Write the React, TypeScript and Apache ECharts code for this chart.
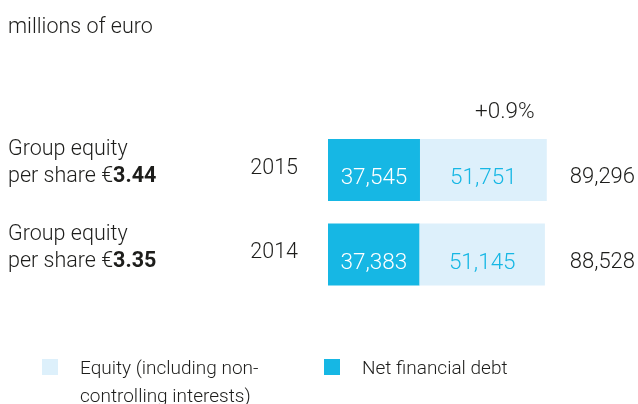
import React, { useEffect, useRef } from 'react';
import * as echarts from 'echarts';

const years = ['2015', '2014'];
const netFinancialDebt = [37545, 37383];
const equity = [51751, 51145];
const equityPerShare = ['3.44', '3.35'];
const unitLabel = 'millions of euro';
const debtName = 'Net financial debt';
const equityName = 'Equity (including non-controlling interests)';

const DARK = '#16b7e4';
const LIGHT = '#ddf0fb';
const TEXT = '#1d1d1b';
const FONT = 'Roboto, "Liberation Sans", Arial, sans-serif';

const fmt = (v: number) => v.toLocaleString('en-US');

export default function App() {
  const ref = useRef<HTMLDivElement>(null);
  useEffect(() => {
    const chart = echarts.init(ref.current!, null, { renderer: 'svg' });
    const totals = years.map((_, i) => netFinancialDebt[i] + equity[i]);
    const change = ((totals[0] - totals[1]) / totals[1]) * 100;
    const changeLabel = (change >= 0 ? '+' : '') + change.toFixed(1) + '%';
    const gridLeft = 328;
    const gridWidth = 246.4;
    const baseText = { fontFamily: FONT, fontSize: 21.5, color: TEXT, fontWeight: 300 as any };
    const hiddenAxis = { axisLine: { show: false }, axisTick: { show: false }, splitLine: { show: false } };

    chart.setOption({
      animation: false,
      textStyle: { fontFamily: FONT },
      grid: { left: gridLeft, width: gridWidth, top: 127.75, height: 169 },
      xAxis: { type: 'value', min: 0, max: 100000, show: false },
      yAxis: [
        {
          type: 'category', data: years, inverse: true, position: 'left', ...hiddenAxis,
          axisLabel: {
            ...baseText, margin: 30,
            formatter: (v: string) => `{y|${v}}\n{s|}`,
            rich: { y: { ...baseText, lineHeight: 26 }, s: { lineHeight: 8, fontSize: 8 } },
          },
        },
        {
          type: 'category', data: years, inverse: true, position: 'left', ...hiddenAxis,
          axisLabel: {
            ...baseText, margin: 320, align: 'left', padding: [0, 0, 18, 0],
            formatter: (_v: string, i: number) =>
              `{n|Group equity}\n{n|per share €}{b|${equityPerShare[i]}}`,
            rich: {
              n: { ...baseText, lineHeight: 27 },
              b: { ...baseText, fontWeight: 'bold', lineHeight: 27 },
            },
          },
        },
        {
          type: 'category', data: years, inverse: true, position: 'right', ...hiddenAxis,
          axisLabel: {
            ...baseText, margin: 62, align: 'right',
            formatter: (_v: string, i: number) => `{s|}\n{t|${fmt(totals[i])}}`,
            rich: {
              t: { ...baseText, fontSize: 22, lineHeight: 26, align: 'right' },
              s: { lineHeight: 11, fontSize: 8 },
            },
          },
        },
      ],
      legend: [
        {
          data: [equityName], left: 42, top: 325, padding: 0, icon: 'rect', itemWidth: 16, itemHeight: 16,
          selectedMode: false,
          formatter: () => '\nEquity (including non-\ncontrolling interests)',
          textStyle: { ...baseText, fontSize: 19, lineHeight: 28, padding: [0, 0, 0, 17] },
        },
        {
          data: [debtName], left: 324, top: 353, padding: 0, icon: 'rect', itemWidth: 16, itemHeight: 16,
          selectedMode: false,
          textStyle: { ...baseText, fontSize: 19, lineHeight: 28, padding: [0, 0, 0, 17] },
        },
      ],
      graphic: [
        { type: 'text', left: 8, top: 14, style: { text: unitLabel, font: `300 21.5px ${FONT}`, fill: TEXT } },
        { type: 'text', left: 475, top: 98, style: { text: changeLabel, font: `300 22.5px ${FONT}`, fill: TEXT } },
      ],
      series: [
        {
          name: debtName, type: 'bar', stack: 'total', data: netFinancialDebt, barWidth: 62,
          itemStyle: { color: DARK },
          label: { show: true, position: 'inside', offset: [0, 6], color: '#ffffff', fontSize: 22.5, fontFamily: FONT, fontWeight: 300, formatter: (p: any) => fmt(p.value) },
        },
        {
          name: equityName, type: 'bar', stack: 'total', data: equity, barWidth: 62,
          itemStyle: { color: LIGHT },
          label: { show: true, position: 'inside', offset: [0, 6], color: DARK, fontSize: 22.5, fontFamily: FONT, fontWeight: 300, formatter: (p: any) => fmt(p.value) },
        },
      ],
    });
    return () => chart.dispose();
  }, []);
  return <div ref={ref} style={{ position: 'fixed', left: 0, top: 0, width: 638, height: 404 }} />;
}
